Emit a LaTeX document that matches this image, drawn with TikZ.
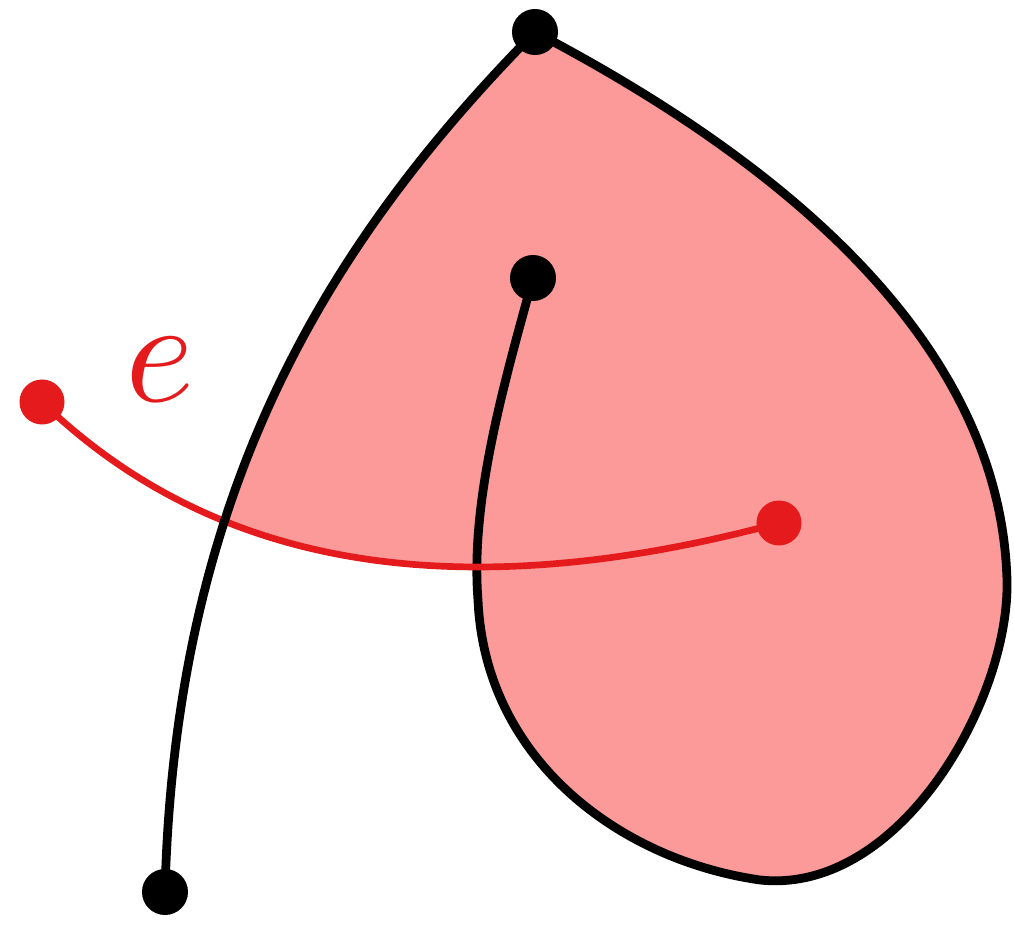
\documentclass[tikz,border=0pt]{standalone}
\definecolor{setred}{HTML}{E41A1C}
\definecolor{lightred}{HTML}{FB9A99}
\begin{document}
\begin{tikzpicture}[x=0.01cm,y=-0.01cm,
  blk/.style={line width=2.5pt,black,line cap=round},
  rd/.style={line width=1.9pt,setred,line cap=round},
  bdot/.style={circle,fill=black,inner sep=0pt,minimum size=0.46cm},
  rdot/.style={circle,fill=setred,inner sep=0pt,minimum size=0.45cm}]
\useasboundingbox (0,0) rectangle (1014,925);
\coordinate (T) at (535,32);
\coordinate (I) at (533,278);
\coordinate (B) at (165,892);
\coordinate (M) at (478,600);
\coordinate (RL) at (42,402);
\coordinate (RR) at (779,523);
% fills
\begin{scope}
\clip (0,402) -- (RL) .. controls (180,535) and (400,625) .. (RR) -- (1014,480) -- (1014,0) -- (0,0) -- cycle;
\fill[lightred] (T) .. controls (320,250) and (175,500) .. (B) -- (M)
  .. controls (485,760) and (620,860) .. (760,880)
  .. controls (900,895) and (1010,700) .. (1007,580)
  .. controls (1000,330) and (760,150) .. (T) -- cycle;
\end{scope}
\fill[lightred] (I) .. controls (505,380) and (470,500) .. (M)
  .. controls (485,760) and (620,860) .. (760,880)
  .. controls (900,895) and (1010,700) .. (1007,580)
  .. controls (1000,330) and (760,150) .. (T) -- cycle;
% loop
\draw[blk] (I) .. controls (505,380) and (470,500) .. (M)
  .. controls (485,760) and (620,860) .. (760,880)
  .. controls (900,895) and (1010,700) .. (1007,580)
  .. controls (1000,330) and (760,150) .. (T);
% red edge
\draw[rd] (RL) .. controls (180,535) and (400,625) .. (RR);
% left curve
\draw[blk] (T) .. controls (320,250) and (175,500) .. (B);
% dots
\node[bdot] (t) at (T) {};
\node[bdot] (i) at (I) {};
\node[bdot] (b) at (B) {};
\node[rdot] (rl) at (RL) {};
\node[rdot] (rr) at (RR) {};
\node[setred,inner sep=0pt,scale=4.2] (e) at (160,370) {$e$};
\end{tikzpicture}
\end{document}
